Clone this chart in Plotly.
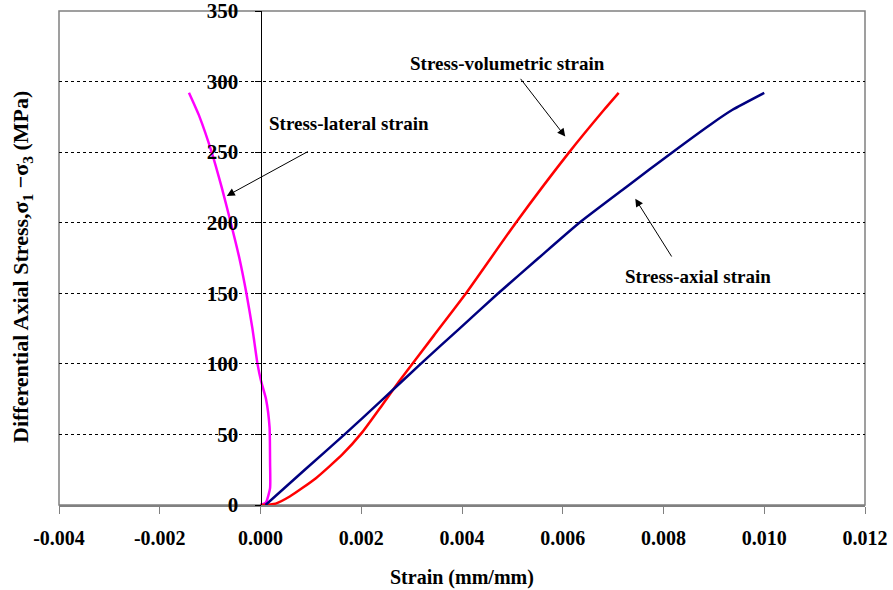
import plotly.graph_objects as go

# stress-axial strain
axial_stress = [0, 25, 50, 75, 100, 125, 150, 175, 200, 225, 250, 270, 280, 292]
axial_strain = [0.0001, 0.00088, 0.00167, 0.00243, 0.00318, 0.00395, 0.00472, 0.00552,
                0.00633, 0.00725, 0.00818, 0.00895, 0.00937, 0.0100]

# stress-volumetric strain
vol_stress = [0, 1, 6, 19, 36, 52, 70, 88, 120, 150, 200, 250, 280, 292]
vol_strain = [0.0, 0.0003, 0.00058, 0.0011, 0.00163, 0.00203, 0.0024, 0.00276,
              0.00344, 0.00408, 0.00507, 0.00613, 0.00682, 0.00711]

# stress-lateral strain
lat_stress = [0, 2, 12, 30, 55, 75, 88, 100, 125, 150, 175, 200, 225, 250, 275, 292]
lat_strain = [0.0, 0.00011, 0.00019, 0.00019, 0.00018, 0.00011, 0.00001, -0.00006,
              -0.00016, -0.00028, -0.00042, -0.00059, -0.00077, -0.00097, -0.00121, -0.00142]

x_ticks = [-0.004, -0.002, 0.0, 0.002, 0.004, 0.006, 0.008, 0.010, 0.012]
y_ticks = [0, 50, 100, 150, 200, 250, 300, 350]

FONT = "Liberation Serif"

fig = go.Figure()
fig.add_trace(go.Scatter(x=lat_strain, y=lat_stress, mode="lines",
                         line=dict(color="#FF00FF", width=2.5, shape="spline", smoothing=0.5)))
fig.add_trace(go.Scatter(x=vol_strain, y=vol_stress, mode="lines",
                         line=dict(color="#FF0000", width=2.5, shape="spline", smoothing=0.5)))
fig.add_trace(go.Scatter(x=axial_strain, y=axial_stress, mode="lines",
                         line=dict(color="#000080", width=2.5, shape="spline", smoothing=0.5)))

fig.update_layout(
    width=893, height=590,
    margin=dict(l=59, r=28, t=11, b=85),
    plot_bgcolor="white", paper_bgcolor="white",
    showlegend=False,
    font=dict(family=FONT, color="black"),
)

fig.update_xaxes(
    range=[-0.004, 0.012], tickvals=x_ticks, ticktext=[f"{v:.3f}" for v in x_ticks],
    showgrid=False, zeroline=False, automargin=False, ticklabeloverflow="allow",
    showline=True, linecolor="#808080", linewidth=1.5,
    ticks="outside", ticklen=7, tickcolor="#808080", tickwidth=1,
    tickfont=dict(size=20, weight="bold", family=FONT), ticklabelstandoff=7,
)
fig.update_yaxes(
    range=[0, 350], tickvals=y_ticks,
    anchor="free", position=0.25, automargin=False, ticklabeloverflow="allow",
    showgrid=True, gridcolor="black", gridwidth=1, griddash="3px,3px",
    zeroline=False,
    showline=True, linecolor="black", linewidth=1,
    ticks="outside", ticklen=6, tickcolor="black",
    tickfont=dict(size=21, weight="bold", family=FONT), ticklabelstandoff=12,
)

# plot area frame
fig.add_shape(type="rect", xref="paper", yref="paper", x0=0, y0=0, x1=1, y1=1,
              line=dict(color="#808080", width=1.5), layer="below")

# axis titles
fig.add_annotation(text="<b>Strain (mm/mm)</b>", xref="paper", yref="paper",
                   x=0.5, y=0, yshift=-72, yanchor="middle", showarrow=False,
                   font=dict(size=20, family=FONT))
fig.add_annotation(text="<b>Differential Axial Stress,σ<sub>1</sub> −σ<sub>3</sub> (MPa)</b>",
                   xref="paper", yref="paper", x=0, y=0.5, xshift=-37, yshift=-9,
                   xanchor="center", yanchor="middle",
                   textangle=-90, showarrow=False, font=dict(size=22, family=FONT))

# curve labels
labels = [
    ("Stress-volumetric strain", 0.00491, 313),
    ("Stress-lateral strain", 0.00176, 270),
    ("Stress-axial strain", 0.00869, 162),
]
for txt, lx, ly in labels:
    fig.add_annotation(text=f"<b>{txt}</b>", x=lx, y=ly, showarrow=False,
                       font=dict(size=19, family=FONT))

# arrows (tail -> head)
arrows = [
    (0.00514, 303, 0.00605, 261),
    (0.00097, 251, -0.00067, 219),
    (0.00818, 175, 0.00744, 217),
]
for tx, ty, hx, hy in arrows:
    fig.add_annotation(text="", x=hx, y=hy, ax=tx, ay=ty, axref="x", ayref="y",
                       showarrow=True, arrowhead=2, arrowsize=1.6, arrowwidth=1,
                       arrowcolor="black", standoff=0)

# drop the default 8px page margin so the figure fills the window
fig.write_html("out.html", config={"displayModeBar": False},
               post_script="document.body.style.margin='0';document.body.style.overflow='hidden';")
